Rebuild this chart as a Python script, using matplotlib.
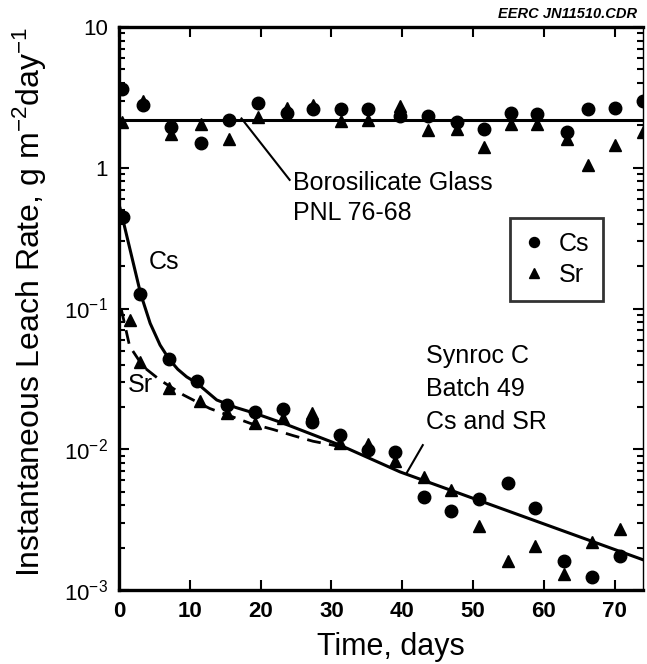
import numpy as np
import matplotlib
matplotlib.use('Agg')
import matplotlib.pyplot as plt
from matplotlib.ticker import FixedLocator, LogLocator, NullFormatter

plt.rcParams['font.family'] = ['Liberation Sans', 'DejaVu Sans']
plt.rcParams['mathtext.fontset'] = 'custom'
plt.rcParams['mathtext.rm'] = 'Liberation Sans'
plt.rcParams['mathtext.it'] = 'Liberation Sans:italic'

# borosilicate glass (PNL 76-68) leach rates
glass_days = [0.4, 3.4, 7.3, 11.6, 15.5, 19.6, 23.7, 27.4, 31.3, 35.2,
              39.7, 43.6, 47.7, 51.6, 55.4, 59.1, 63.2, 66.3, 70.0, 74.0]
glass_cs = [3.6, 2.8, 1.95, 1.5, 2.2, 2.9, 2.45, 2.6, 2.6, 2.6,
            2.35, 2.35, 2.1, 1.9, 2.45, 2.4, 1.8, 2.6, 2.65, 3.0]
glass_sr = [2.1, 3.0, 1.75, 2.05, 1.6, 2.3, 2.65, 2.8, 2.15, 2.2,
            2.75, 1.85, 1.9, 1.4, 2.05, 2.05, 1.6, 1.05, 1.45, 1.8]
glass_line_days = [0, 74]
glass_line = [2.2, 2.2]

# Synroc C batch 49
cs_days = [0.5, 3.0, 7.1, 11.0, 15.2, 19.2, 23.2, 27.2, 31.2, 35.2,
           39.0, 43.1, 46.9, 50.9, 54.9, 58.8, 62.8, 66.8, 70.8]
cs_rate = [0.45, 0.127, 0.0435, 0.0305, 0.0206, 0.0185, 0.0192, 0.0157, 0.0126, 0.0099,
           0.0096, 0.0046, 0.00364, 0.00444, 0.00578, 0.00385, 0.00161, 0.00123, 0.00173]
sr_days = [1.5, 3.0, 7.1, 11.4, 15.2, 19.2, 23.2, 27.2, 31.2, 35.2,
           39.0, 43.1, 46.9, 50.9, 54.9, 58.8, 62.8, 66.8, 70.8]
sr_rate = [0.083, 0.042, 0.0272, 0.022, 0.0181, 0.0153, 0.0166, 0.018, 0.0111, 0.0109,
           0.0083, 0.00638, 0.00513, 0.00285, 0.00161, 0.00206, 0.0013, 0.0022, 0.0027]

# fitted curves
cs_fit_days = [0, 0.4, 1.5, 3.06, 4.4, 5.8, 7.1, 8.3, 9.55, 11, 13.8, 16.5, 19.2, 23.2, 31.2, 39.7, 74]
cs_fit = [0.55, 0.46, 0.27, 0.127, 0.0785, 0.055, 0.0435, 0.037, 0.0327, 0.0295, 0.0224,
          0.0198, 0.018, 0.0153, 0.0107, 0.0069, 0.00164]
sr_fit_days = [0.3, 1.5, 3.4, 5.8, 9.1, 12.8, 18.5, 21.8, 24.6, 27.4, 31.0]
sr_fit = [0.1, 0.054, 0.0387, 0.031, 0.0243, 0.0195, 0.0153, 0.0138, 0.0125, 0.0114, 0.0105]

# leader lines for annotations
boro_leader_days = [17.3, 24.1]
boro_leader = [2.24, 0.82]
synroc_leader_days = [40.6, 42.9]
synroc_leader = [0.00675, 0.0107]

fig = plt.figure(figsize=(6.47, 6.64), dpi=100)
ax = fig.add_axes([119 / 647, 74 / 664, 524 / 647, 563 / 664])

ax.plot(glass_line_days, glass_line, color='black', lw=2.2)
ax.plot(cs_fit_days, cs_fit, color='black', lw=2.2)
ax.plot(sr_fit_days, sr_fit, color='black', lw=2.0, dashes=(5, 3))
ax.plot(boro_leader_days, boro_leader, color='black', lw=1.5)
ax.plot(synroc_leader_days, synroc_leader, color='black', lw=1.5)

ax.plot(glass_days, glass_cs, 'o', color='black', ms=9)
ax.plot(glass_days, glass_sr, '^', color='black', ms=8.5)
ax.plot(cs_days, cs_rate, 'o', color='black', ms=9, label='Cs')
ax.plot(sr_days, sr_rate, '^', color='black', ms=8.5, label='Sr')

ax.set_yscale('log')
ax.set_xlim(0, 74)
ax.set_ylim(1e-3, 10)

ax.xaxis.set_major_locator(FixedLocator([0, 10, 20, 30, 40, 50, 60, 70]))
ax.set_xticklabels(['0', '10', '20', '30', '40', '50', '60', '70'], fontsize=16, fontweight='bold')
ax.yaxis.set_major_locator(FixedLocator([1e-3, 1e-2, 1e-1, 1, 10]))
ax.set_yticklabels(['$10^{-3}$', '$10^{-2}$', '$10^{-1}$', '1', '10'], fontsize=16)
ax.yaxis.set_minor_locator(LogLocator(base=10, subs=np.arange(2, 10)))
ax.yaxis.set_minor_formatter(NullFormatter())

ax.tick_params(which='both', direction='in', top=True, right=True, width=1.5)
ax.tick_params(which='major', length=7, pad=8)
ax.tick_params(which='minor', length=4)
for side in ['left', 'bottom', 'top']:
    ax.spines[side].set_linewidth(2.4)
ax.spines['right'].set_linewidth(1.0)

fig.text(391 / 647, 1 - 647 / 664, 'Time, days', fontsize=22, ha='center', va='center')
fig.text(30 / 647, 1 - 302 / 664, 'Instantaneous Leach Rate, g m$^{-2}$day$^{-1}$',
         fontsize=23, rotation=90, ha='center', va='center')
fig.text(0.985, 1 - 14 / 664, 'EERC JN11510.CDR', fontsize=10.5,
         fontweight='bold', style='italic', ha='right', va='center')

ax.text(24.6, 0.61, 'Borosilicate Glass\nPNL 76-68', fontsize=18, ha='left', va='center',
        linespacing=1.35)
ax.text(4.2, 0.214, 'Cs', fontsize=18, ha='left', va='center')
ax.text(1.3, 0.0286, 'Sr', fontsize=18, ha='left', va='center')
ax.text(43.3, 0.0268, 'Synroc C\nBatch 49\nCs and SR', fontsize=18, ha='left', va='center',
        linespacing=1.45)

leg = ax.legend(loc='upper left', bbox_to_anchor=(0.746, 0.661), borderaxespad=0,
                fontsize=18, frameon=True, fancybox=False, handlelength=0.8,
                handletextpad=0.6, borderpad=0.55, labelspacing=0.3, markerscale=0.8)
leg.get_frame().set_edgecolor('black')
leg.get_frame().set_linewidth(2.0)

fig.savefig('out.png', dpi=100)
